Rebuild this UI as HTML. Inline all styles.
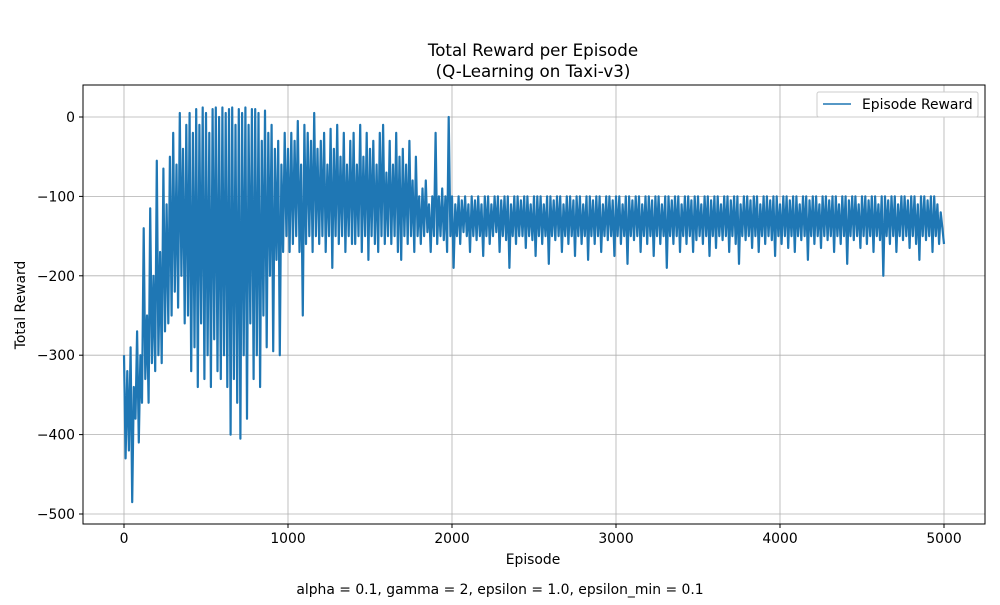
<!DOCTYPE html>
<html><head><meta charset="utf-8"><style>
body{margin:0;background:#fff;}
svg text{font-family:"DejaVu Sans","Liberation Sans",sans-serif;fill:#000;}
</style></head><body>
<svg id="chart" width="1000" height="600" viewBox="0 0 1000 600">
<rect width="1000" height="600" fill="#fff"/>
<text x="533" y="56" font-size="16.7" text-anchor="middle">Total Reward per Episode</text>
<text x="533" y="77" font-size="16.7" text-anchor="middle">(Q-Learning on Taxi-v3)</text>
<g id="grid"></g>
<g id="series"></g>
<rect x="83" y="85" width="902" height="439" fill="none" stroke="#000" stroke-width="1"/>
<g id="ticks"></g>
<text x="533" y="564" font-size="13.9" text-anchor="middle">Episode</text>
<text x="25" y="305" font-size="13.9" text-anchor="middle" transform="rotate(-90 25 305)">Total Reward</text>
<g>
<rect x="817" y="92" width="161" height="25" rx="2" fill="#fff" stroke="#ccc"/>
<line x1="823" y1="104" x2="851" y2="104" stroke="#1f77b4" stroke-width="1.5"/>
<text x="862" y="109" font-size="13.9">Episode Reward</text>
</g>
<text x="500" y="594" font-size="13.9" text-anchor="middle">alpha = 0.1, gamma = 2, epsilon = 1.0, epsilon_min = 0.1</text>
</svg>
<script>
const xTicks=[0,1000,2000,3000,4000,5000];
const yTicks=[0,-100,-200,-300,-400,-500];
const episodeStep=10;
const rewards=[
-300,-430,-320,-420,-290,-485,-340,-380,-270,-410,-300,-360,-140,-330,-250,-360,-115,-310,-200,-320,
-55,-300,-170,-310,-65,-270,-110,-260,-50,-250,-20,-220,-60,-240,5,-200,-40,-260,-10,-250,
5,-320,-20,-290,10,-340,-10,-260,12,-330,5,-300,-20,-340,10,-280,12,-320,0,-330,
12,-300,5,-340,10,-400,12,-330,-10,-360,10,-405,5,-300,12,-380,-10,-260,10,-330,
10,-300,5,-340,-30,-250,8,-290,-20,-200,-10,-295,-40,-180,-30,-300,-60,-170,-20,-150,
-40,-170,-20,-160,-30,-150,-5,-170,-60,-250,-10,-160,-20,-150,-30,-170,5,-150,-40,-160,
-30,-150,-20,-170,-60,-150,-15,-190,-40,-150,-10,-160,-50,-150,-20,-170,-60,-150,-30,-160,
-20,-160,-60,-150,-10,-170,-50,-150,-20,-180,-40,-150,-30,-160,-60,-170,-20,-150,-10,-160,
-70,-150,-30,-160,-60,-150,-20,-170,-50,-180,-40,-150,-60,-160,-30,-150,-80,-170,-50,-150,
-100,-160,-90,-150,-80,-145,-110,-170,-100,-150,-20,-160,-100,-150,-90,-155,-100,-170,0,-150,
-100,-190,-110,-150,-100,-160,-105,-145,-100,-150,
-110,-170,-100,-150,-105,-155,-100,-150,-110,-175,
-100,-150,-100,-160,-110,-150,-100,-145,-100,-170,
-105,-150,-100,-155,-100,-190,-110,-150,-100,-160,
-100,-150,-105,-150,-100,-165,-100,-150,-110,-155,
-100,-175,-100,-150,-100,-160,-110,-150,-100,-185,
-100,-150,-105,-155,-100,-150,-100,-170,-110,-150,
-100,-160,-100,-150,-105,-175,-100,-150,-100,-160,
-110,-150,-100,-180,-100,-150,-105,-160,-100,-150,
-100,-170,-110,-150,-100,-155,-100,-150,-105,-175,
-100,-150,-100,-160,-110,-150,-100,-185,-100,-150,
-105,-155,-100,-150,-100,-170,-110,-150,-100,-160,
-100,-150,-105,-175,-100,-150,-100,-160,-110,-150,
-100,-190,-100,-150,-105,-160,-100,-150,-100,-170,
-110,-150,-100,-160,-100,-150,-105,-170,-100,-155,
-100,-150,-110,-160,-100,-150,-100,-175,-105,-150,
-100,-165,-100,-150,-110,-155,-100,-150,-100,-170,
-105,-150,-100,-160,-100,-185,-110,-150,-100,-155,
-100,-150,-105,-165,-100,-150,-100,-170,-110,-150,
-100,-160,-100,-150,-105,-155,-100,-175,-100,-150,
-110,-160,-100,-150,-100,-165,-105,-150,-100,-170,
-100,-150,-110,-155,-100,-150,-100,-180,-105,-150,
-100,-160,-100,-150,-110,-165,-100,-150,-100,-155,
-105,-150,-100,-170,-100,-150,-110,-160,-100,-150,
-100,-185,-105,-150,-100,-155,-100,-150,-110,-165,
-100,-150,-100,-160,-105,-150,-100,-170,-100,-150,
-110,-155,-100,-200,-100,-150,-105,-160,-100,-150,
-100,-170,-110,-150,-100,-155,-100,-150,-105,-165,
-100,-150,-100,-160,-110,-180,-100,-150,-100,-155,
-105,-150,-100,-170,-100,-150,-110,-160,-120,-140,
-160
];
const X0=124,XS=164/1000,Y0=117,YS=79.4/100;
function sx(v){return X0+v*XS;}
function sy(v){return Y0-v*YS;}
const NS="http://www.w3.org/2000/svg";
const grid=document.getElementById('grid'),ticks=document.getElementById('ticks');
xTicks.forEach(t=>{
 const l=document.createElementNS(NS,'line');
 l.setAttribute('x1',sx(t));l.setAttribute('x2',sx(t));l.setAttribute('y1',85);l.setAttribute('y2',524);
 l.setAttribute('stroke','#b0b0b0');l.setAttribute('stroke-width','0.8');
 
 
 grid.appendChild(l);
 const k=document.createElementNS(NS,'line');
 k.setAttribute('x1',sx(t));k.setAttribute('x2',sx(t));k.setAttribute('y1',524);k.setAttribute('y2',528);k.setAttribute('stroke','#000');
 
 
 ticks.appendChild(k);
 const tx=document.createElementNS(NS,'text');
 tx.setAttribute('x',sx(t));tx.setAttribute('y',543);tx.setAttribute('font-size','13.9');tx.setAttribute('text-anchor','middle');
 tx.textContent=t;
 
 
 ticks.appendChild(tx);
});
yTicks.forEach(t=>{
 const l=document.createElementNS(NS,'line');
 l.setAttribute('x1',83);l.setAttribute('x2',985);l.setAttribute('y1',sy(t));l.setAttribute('y2',sy(t));
 l.setAttribute('stroke','#b0b0b0');l.setAttribute('stroke-width','0.8');
 
 
 grid.appendChild(l);
 const k=document.createElementNS(NS,'line');
 k.setAttribute('x1',79);k.setAttribute('x2',83);k.setAttribute('y1',sy(t));k.setAttribute('y2',sy(t));k.setAttribute('stroke','#000');
 
 
 ticks.appendChild(k);
 const tx=document.createElementNS(NS,'text');
 tx.setAttribute('x',75);tx.setAttribute('y',sy(t)+5);tx.setAttribute('font-size','13.9');tx.setAttribute('text-anchor','end');
 tx.textContent=t<0?'\u2212'+Math.abs(t):t;
 
 
 ticks.appendChild(tx);
});
const p=document.createElementNS(NS,'polyline');
p.setAttribute('points',rewards.map((r,i)=>sx(i*episodeStep).toFixed(1)+','+sy(r).toFixed(1)).join(' '));
p.setAttribute('fill','none');p.setAttribute('stroke','#1f77b4');p.setAttribute('stroke-width','2.2');p.setAttribute('stroke-linejoin','round');


document.getElementById('series').appendChild(p);
</script>
</body></html>
